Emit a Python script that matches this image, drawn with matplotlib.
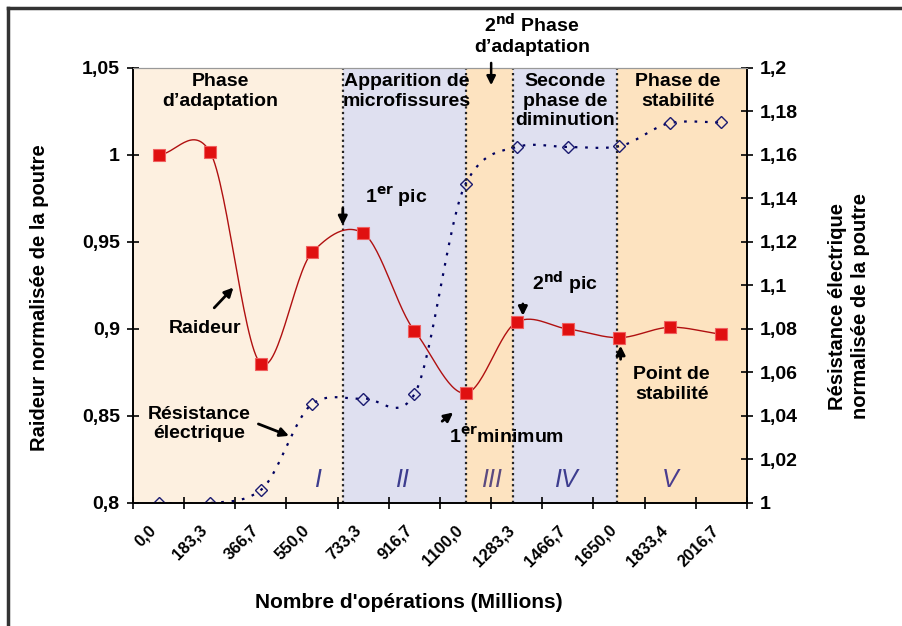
import numpy as np
import matplotlib.pyplot as plt
from matplotlib.lines import Line2D

plt.rcParams['font.family'] = ['Liberation Sans', 'DejaVu Sans']
plt.rcParams['font.weight'] = 'bold'
plt.rcParams['axes.labelweight'] = 'bold'

# x categories (millions of operations)
labels_x = ['0,0', '183,3', '366,7', '550,0', '733,3', '916,7', '1100,0',
            '1283,3', '1466,7', '1650,0', '1833,4', '2016,7']
raideur = [1.000, 1.002, 0.880, 0.944, 0.955, 0.899, 0.863,
           0.904, 0.900, 0.895, 0.901, 0.897]
resistance = [1.000, 1.000, 1.006, 1.0455, 1.048, 1.050, 1.1467,
              1.1637, 1.1637, 1.164, 1.1747, 1.175]

# phase limits in category units
phase_edges = [-0.5, 3.6, 6.0, 6.92, 8.96, 11.5]
phase_colors = ['#fdf0e0', '#dfe0f0', '#fde3c0', '#dfe0f0', '#fde3c0']
phase_nums = ['I', 'II', 'III', 'IV', 'V']
num_x = [3.1, 4.75, 6.5, 7.95, 10.0]
num_colors = ['#3d3d8f', '#3d3d8f', '#5b4a80', '#3d3d8f', '#4a3d8f']


def smooth(y, s=0.8, n=30):
    # cardinal spline through the points (smoothed line)
    y = np.asarray(y, float)
    m = np.zeros_like(y)
    m[1:-1] = s * (y[2:] - y[:-2]) / 2
    m[0] = s * (y[1] - y[0])
    m[-1] = s * (y[-1] - y[-2])
    t = np.linspace(0, 1, n, endpoint=False)
    h00 = 2 * t**3 - 3 * t**2 + 1
    h10 = t**3 - 2 * t**2 + t
    h01 = -2 * t**3 + 3 * t**2
    h11 = t**3 - t**2
    xs, ys = [], []
    for i in range(len(y) - 1):
        xs.extend(i + t)
        ys.extend(h00 * y[i] + h10 * m[i] + h01 * y[i + 1] + h11 * m[i + 1])
    xs.append(len(y) - 1)
    ys.append(y[-1])
    return np.array(xs), np.array(ys)


fig = plt.figure(figsize=(9.03, 6.26), dpi=100)
ax = fig.add_axes([0.1473, 0.1965, 0.6799, 0.6949])
ax2 = ax.twinx()
ax.set_zorder(ax2.get_zorder() + 1)
ax.patch.set_visible(False)

# background bands and dotted separators
for i in range(5):
    ax2.axvspan(phase_edges[i], phase_edges[i + 1], color=phase_colors[i], lw=0, zorder=0)
for e in phase_edges[1:-1]:
    ax.axvline(e, color='#222222', ls=(0, (1, 1.5)), lw=1.6, zorder=1)

xi = np.arange(len(labels_x))

# electrical resistance (right axis)
sx, sy = smooth(resistance)
ax2.plot(sx, sy, color='#000060', ls=(0, (1.2, 3.5)), lw=1.6, zorder=2)
ax2.plot(xi, resistance, ls='none', marker='D', ms=6, mfc='none',
         mec='#1a1a70', mew=1.0, zorder=3)

# stiffness (left axis)
sx, sy = smooth(raideur)
ax.plot(sx, sy, color='#b01010', lw=1.0, zorder=3)
ax.plot(xi, raideur, ls='none', marker='s', ms=9, mfc='#e01010',
        mec='#f06060', mew=0.8, zorder=4)

ax.set_xlim(-0.5, 11.5)
ax.set_ylim(0.8, 1.05)
ax2.set_ylim(1.0, 1.2)

ax.set_yticks([0.8, 0.85, 0.9, 0.95, 1.0, 1.05])
ax.set_yticklabels(['0,8', '0,85', '0,9', '0,95', '1', '1,05'])
ax2.set_yticks(np.arange(1.0, 1.2001, 0.02))
ax2.set_yticklabels(['1', '1,02', '1,04', '1,06', '1,08', '1,1', '1,12',
                     '1,14', '1,16', '1,18', '1,2'])

# boundary ticks, labels slightly left of the category centre
ax.set_xticks(np.arange(-0.5, 11.6, 1.0))
ax.set_xticklabels([])
ax.set_xticks(xi - 0.2, minor=True)
ax.set_xticklabels(labels_x, minor=True, rotation=45, ha='right',
                   rotation_mode='anchor', fontsize=12)
ax.tick_params(axis='x', which='minor', length=0, pad=14)
ax.tick_params(axis='x', which='major', direction='inout', length=9, width=1.2)
ax.tick_params(axis='y', direction='inout', length=9, width=1.2, labelsize=14, pad=5)
ax2.tick_params(axis='y', direction='inout', length=9, width=1.2, labelsize=14, pad=5)

for a in (ax, ax2):
    a.spines['top'].set_color('#999999')
    a.spines['top'].set_linewidth(0.8)
    for s in ('left', 'right', 'bottom'):
        a.spines[s].set_linewidth(1.2)

# axis titles
fig.text(40 / 903, 1 - 298 / 626, 'Raideur normalisée de la poutre', fontsize=14.5,
         rotation=90, ha='center', va='center')
fig.text(849 / 903, 1 - 306 / 626, 'Résistance électrique\nnormalisée de la poutre',
         fontsize=14.5, rotation=90, ha='center', va='center', linespacing=1.3,
         multialignment='center')
fig.text(409 / 903, 1 - 602 / 626, "Nombre d'opérations (Millions)", fontsize=15,
         ha='center', va='center')

# phase titles
txt = dict(fontsize=14, ha='center', va='top', linespacing=1.2, zorder=6)
ax.text(1.2, 1.047, 'Phase\nd\u2019adaptation', **txt)
ax.text(4.85, 1.047, 'Apparition de\nmicrofissures', **txt)
ax.text(7.95, 1.047, 'Seconde\nphase de\ndiminution', **txt)
ax.text(10.15, 1.047, 'Phase de\nstabilité', **txt)
ax.text(7.3, 1.0747, '2$^{\\rm nd}$ Phase', fontsize=14, ha='center', va='center')
ax.text(7.3, 1.0615, 'd\u2019adaptation', fontsize=14, ha='center', va='center')
ax.annotate('', xy=(6.5, 1.0385), xytext=(6.5, 1.0545),
            arrowprops=dict(arrowstyle='-|>', color='black', lw=1.8,
                            mutation_scale=13), annotation_clip=False)

# point annotations
ann = dict(arrowstyle='-|>', color='black', lw=2, mutation_scale=13)
ax.text(4.65, 0.976, '1$^{\\rm er}$ pic', fontsize=14, ha='center', va='center')
ax.annotate('', xy=(3.6, 0.958), xytext=(3.6, 0.971), arrowprops=ann)

ax.text(0.9, 0.9, 'Raideur', fontsize=14, ha='center', va='center')
ax.annotate('', xy=(1.5, 0.925), xytext=(1.05, 0.911), arrowprops=ann)

ax.text(0.8, 0.8455, 'Résistance\nélectrique', fontsize=14, ha='center',
        va='center', linespacing=1.2)
ax.annotate('', xy=(2.6, 0.838), xytext=(1.9, 0.846), arrowprops=ann)

ax.text(6.8, 0.838, '1$^{\\rm er}$minimum', fontsize=14, ha='center', va='center')
ax.annotate('', xy=(5.8, 0.853), xytext=(5.5, 0.846), arrowprops=ann)

ax.text(7.95, 0.926, '2$^{\\rm nd}$ pic', fontsize=14, ha='center', va='center')
ax.annotate('', xy=(7.12, 0.906), xytext=(7.12, 0.916), arrowprops=ann)

ax.text(10.03, 0.868, 'Point de\nstabilité', fontsize=14, ha='center',
        va='center', linespacing=1.2)
ax.annotate('', xy=(9.03, 0.892), xytext=(9.03, 0.881), arrowprops=ann)

# roman phase numbers
for x, s, c in zip(num_x, phase_nums, num_colors):
    ax.text(x, 0.813, s, fontsize=18, fontweight='normal', style='italic',
            color=c, ha='center', va='center', zorder=6)

# frame around the figure
fig.add_artist(Line2D([0.009, 0.009], [0, 0.987], color='#333333', lw=2.5))
fig.add_artist(Line2D([0.009, 1], [0.987, 0.987], color='#333333', lw=2.5))

fig.savefig('out.png', dpi=100)
